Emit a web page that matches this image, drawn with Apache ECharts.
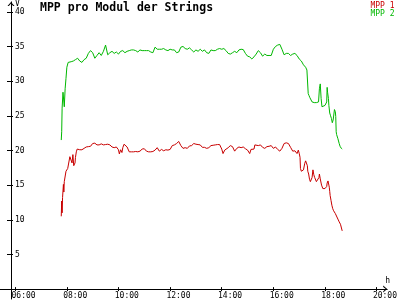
<!DOCTYPE html>
<html><head><meta charset="utf-8">
<script src="https://cdn.jsdelivr.net/npm/echarts@6/dist/echarts.min.js"></script>
<style>html,body{margin:0;padding:0;background:#fff}#c{width:400px;height:300px}</style>
</head><body><div id="c"></div>
<script>
// ---- data ----
const seriesNames = ['MPP 1', 'MPP 2'];
const xTickHours = [6, 8, 10, 12, 14, 16, 18, 20];
const yTickValues = [5, 10, 15, 20, 25, 30, 35, 40];

const times1 = ['07:47','07:48','07:49','07:50','07:52','07:53','07:54','07:56','07:58','08:00','08:02','08:04','08:06','08:07','08:10','08:12','08:14','08:16','08:17','08:19','08:20','08:22','08:24','08:26','08:30','08:35','08:40','08:45','08:50','08:55','09:00','09:05','09:10','09:15','09:20','09:25','09:30','09:35','09:40','09:45','09:50','09:55','10:00','10:02','10:05','10:07','10:08','10:10','10:13','10:15','10:20','10:25','10:30','10:35','10:40','10:45','10:50','10:55','11:00','11:05','11:10','11:15','11:20','11:25','11:30','11:35','11:40','11:45','11:50','11:55','12:00','12:05','12:10','12:15','12:20','12:25','12:30','12:35','12:40','12:45','12:50','12:55','13:00','13:05','13:10','13:15','13:20','13:25','13:30','13:35','13:40','13:45','13:50','13:55','14:00','14:03','14:05','14:07','14:10','14:15','14:20','14:25','14:30','14:35','14:40','14:45','14:50','14:55','15:00','15:05','15:06','15:08','15:10','15:15','15:17','15:20','15:25','15:30','15:35','15:40','15:45','15:50','15:55','16:00','16:05','16:10','16:15','16:20','16:25','16:30','16:35','16:40','16:45','16:50','16:53','16:55','16:57','16:58','17:00','17:02','17:03','17:05','17:08','17:10','17:13','17:15','17:17','17:19','17:20','17:22','17:24','17:26','17:28','17:30','17:32','17:34','17:36','17:38','17:40','17:42','17:44','17:46','17:47','17:49','17:51','17:52','17:55','18:00','18:02','18:04','18:05','18:07','18:08','18:09','18:10','18:11','18:12','18:14','18:16','18:18','18:20','18:24','18:27','18:30','18:33','18:36','18:39','18:40'];
const mpp1 = [10.5,12.7,11.0,13.2,15.1,14.0,15.5,15.6,17.0,17.2,17.4,17.5,17.5,19.1,19.0,18.2,19.4,17.8,17.7,18.2,19.0,19.8,20.2,20.3,20.1,20.1,20.3,20.5,20.55,20.6,21.0,21.05,20.8,20.8,20.95,20.8,20.85,20.9,20.8,20.5,20.4,20.5,20.1,19.5,20.1,20.2,19.7,20.4,20.9,20.9,20.5,19.8,19.8,19.8,19.85,19.8,19.9,20.2,20.25,19.9,19.8,19.8,19.85,20.05,20.4,19.9,20.15,19.95,20.1,20.05,20.15,20.7,20.8,21.0,21.3,20.7,20.3,20.4,20.3,20.65,20.7,21.0,20.9,20.85,20.8,20.45,20.45,20.3,20.4,20.7,20.75,20.8,20.85,20.85,20.2,19.55,19.3,20.05,20.3,20.4,20.7,20.55,19.9,20.3,20.5,20.4,20.5,20.25,20.05,19.55,19.4,20.15,20.3,20.2,20.8,20.85,20.7,20.8,20.45,20.3,20.55,20.6,20.7,20.3,20.5,20.15,19.9,20.3,21.0,21.1,21.0,20.45,19.9,19.95,19.95,19.55,19.7,20.05,19.6,19.0,17.4,17.0,17.0,17.2,18.15,18.5,18.5,17.8,17.0,16.6,15.85,15.5,15.5,16.1,17.2,16.5,16.1,16.0,15.5,15.45,15.5,16.1,16.6,15.9,15.3,15.0,14.5,14.5,14.5,14.8,15.3,15.6,15.3,15.0,14.7,14.1,13.5,12.8,12.1,11.6,11.3,10.9,10.7,10.1,9.7,9.35,9.3,8.4];

const times2 = ['07:47','07:48','07:49','07:51','07:54','07:56','07:58','08:00','08:03','08:05','08:10','08:15','08:20','08:25','08:30','08:35','08:40','08:45','08:50','08:55','09:00','09:05','09:10','09:15','09:20','09:25','09:30','09:35','09:40','09:45','09:50','09:55','10:00','10:05','10:10','10:15','10:20','10:25','10:30','10:35','10:40','10:45','10:50','10:55','11:00','11:05','11:10','11:15','11:20','11:25','11:30','11:35','11:40','11:45','11:50','11:55','12:00','12:05','12:10','12:15','12:20','12:25','12:30','12:35','12:40','12:45','12:50','12:55','13:00','13:05','13:10','13:15','13:20','13:25','13:30','13:35','13:40','13:45','13:50','13:55','14:00','14:05','14:10','14:15','14:20','14:25','14:30','14:35','14:40','14:45','14:50','14:55','15:00','15:05','15:10','15:15','15:20','15:25','15:30','15:35','15:40','15:45','15:50','15:55','16:00','16:05','16:10','16:15','16:20','16:25','16:30','16:35','16:40','16:45','16:50','16:55','17:00','17:05','17:10','17:15','17:18','17:20','17:21','17:23','17:25','17:30','17:35','17:40','17:43','17:45','17:47','17:49','17:51','17:53','17:55','18:00','18:02','18:04','18:05','18:06','18:07','18:08','18:09','18:11','18:13','18:15','18:17','18:18','18:19','18:21','18:22','18:24','18:25','18:26','18:27','18:30','18:33','18:35','18:38','18:40'];
const mpp2 = [21.5,22.7,26.1,28.4,26.3,28.9,30.4,32.0,32.7,32.8,32.8,32.9,33.1,33.3,32.9,32.7,33.1,33.3,34.0,34.4,34.1,33.3,33.7,34.1,33.7,34.3,35.2,33.8,34.1,34.3,34.0,34.2,33.9,34.3,34.4,34.1,34.3,34.4,34.5,34.5,34.4,34.2,34.5,34.4,34.4,34.4,34.4,34.2,34.1,34.9,34.6,34.6,34.6,34.7,34.5,34.4,34.6,34.5,34.5,34.1,34.2,34.9,35.0,34.7,34.6,34.8,34.5,34.2,34.5,34.3,34.6,34.3,34.5,34.1,34.0,34.5,34.4,34.4,34.6,34.7,34.6,34.7,34.4,34.0,33.9,34.1,34.3,34.1,34.5,34.6,34.55,34.0,33.6,33.5,33.2,33.5,33.9,34.4,34.1,33.6,33.9,33.7,33.7,33.7,34.6,35.0,35.2,35.3,34.6,33.8,34.0,34.0,33.7,33.9,34.0,33.7,33.2,32.9,32.35,32.0,31.6,31.5,28.2,27.9,27.6,27.0,26.9,26.9,26.7,27.0,28.9,29.6,27.5,26.3,26.3,26.5,26.7,27.0,29.1,28.4,28.2,27.5,26.5,25.4,25.0,24.6,24.0,23.9,24.4,25.4,25.9,25.6,24.9,22.7,22.3,21.7,21.0,20.6,20.3,20.2];

// ---- helpers ----
const toHours = s => { const p = s.split(':'); return +p[0] + (+p[1]) / 60; };
const pairs = (t, v) => t.map((s, i) => [toHours(s), v[i]]);
const FONT = 'DejaVu Sans Mono';
const RED = '#c80000', GREEN = '#00b800';
const X_MIN = 5.41, X_MAX = 20.41;
const Y_MIN = -10 / 7, Y_MAX = 290 / 7;
const arrowPath = 'path://M0,4 L3.5,0 L7,4 L5.6,4 L3.5,1.5 L1.4,4 Z';
const hourLabel = v => String(Math.round(v)).padStart(2, '0') + ':00';

const chart = echarts.init(document.getElementById('c'), null, {renderer: 'canvas'});
chart.setOption({
  animation: false,
  backgroundColor: '#fff',
  title: {
    text: 'MPP pro Modul der Strings', left: 40, top: 2.5, padding: 0,
    textStyle: {fontFamily: FONT, fontWeight: 'bold', fontSize: 11.5, color: '#000'}
  },
  legend: {
    orient: 'vertical', right: 5.5, top: 2, padding: 0, itemGap: 0,
    itemWidth: 0, itemHeight: 0, icon: 'rect',
    textStyle: {fontFamily: FONT, fontSize: 8, lineHeight: 7.5},
    data: [
      {name: seriesNames[0], textStyle: {color: RED}},
      {name: seriesNames[1], textStyle: {color: GREEN}}
    ]
  },
  grid: {left: 0, right: 1, top: 0, bottom: 0, containLabel: false},
  xAxis: [{
    type: 'value', min: X_MIN, max: X_MAX, position: 'bottom',
    name: 'h', nameLocation: 'end', nameGap: -2,
    nameTextStyle: {fontFamily: FONT, fontSize: 8, color: '#000', align: 'left', verticalAlign: 'bottom', padding: [0, 0, 4, 0]},
    axisLine: {show: true, onZero: true, symbol: ['none', arrowPath], symbolSize: [7, 4], symbolOffset: [0, -2], lineStyle: {color: '#000', width: 1}},
    axisTick: {show: true, length: 2, customValues: xTickHours, lineStyle: {color: '#000'}},
    axisLabel: {show: true, customValues: xTickHours, formatter: hourLabel, margin: -7, align: 'left', padding: [0, 0, 0, -3.7],
      fontFamily: FONT, fontSize: 8, color: '#000'},
    splitLine: {show: false}
  }, {
    type: 'value', min: X_MIN, max: X_MAX, position: 'bottom',
    axisLine: {show: false, onZero: true},
    axisTick: {show: true, inside: true, length: 2, customValues: xTickHours, lineStyle: {color: '#000'}},
    axisLabel: {show: false},
    splitLine: {show: false}
  }],
  yAxis: [{
    type: 'value', min: Y_MIN, max: Y_MAX, position: 'left', offset: -11,
    name: 'V', nameLocation: 'end', nameGap: -1,
    nameTextStyle: {fontFamily: FONT, fontSize: 8, color: '#000', align: 'left', verticalAlign: 'top', padding: [0, 0, 0, 4]},
    axisLine: {show: true, onZero: false, symbol: ['none', arrowPath], symbolSize: [7, 4], symbolOffset: [0, -2], lineStyle: {color: '#000', width: 1}},
    axisTick: {show: true, length: 4, customValues: yTickValues, lineStyle: {color: '#000'}},
    axisLabel: {show: true, inside: true, customValues: yTickValues, margin: 4,
      fontFamily: FONT, fontSize: 8, color: '#000'},
    splitLine: {show: false}
  }, {
    type: 'value', min: Y_MIN, max: Y_MAX, position: 'left', offset: -11,
    axisLine: {show: false, onZero: false},
    axisTick: {show: true, inside: true, length: 2, customValues: yTickValues, lineStyle: {color: '#000'}},
    axisLabel: {show: false},
    splitLine: {show: false}
  }],
  series: [{
    name: seriesNames[0], type: 'line', xAxisIndex: 0, yAxisIndex: 0,
    data: pairs(times1, mpp1), showSymbol: false, symbol: 'none',
    lineStyle: {color: RED, width: 1}, itemStyle: {color: RED}
  }, {
    name: seriesNames[1], type: 'line', xAxisIndex: 0, yAxisIndex: 0,
    data: pairs(times2, mpp2), showSymbol: false, symbol: 'none',
    lineStyle: {color: GREEN, width: 1}, itemStyle: {color: GREEN}
  }]
});
</script>
</body></html>
